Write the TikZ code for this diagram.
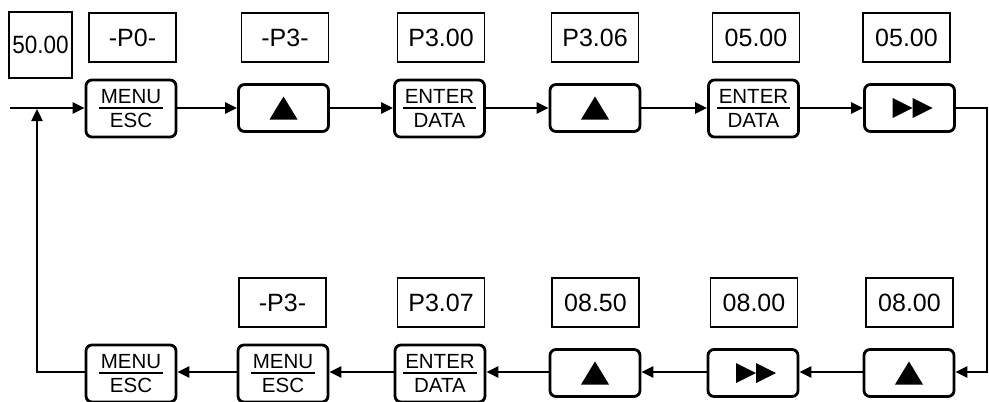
\documentclass[tikz,border=0pt]{standalone}
\usepackage{fontspec}
\setmainfont{Liberation Sans}
\usetikzlibrary{arrows.meta}

% two-line key caption with a bar between the words
\newcommand\keycap[2]{{\renewcommand\arraystretch{0}%
  \begin{tabular}{@{\hspace{2pt}}c@{\hspace{2pt}}}%
  \rule[-3.5pt]{0pt}{15pt}#1\\ \noalign{\hrule height 2.2pt}%
  \rule{0pt}{18.5pt}#2\end{tabular}}}

\begin{document}
\begin{tikzpicture}[x=1pt,y=-1pt,
  disp/.style={draw,line width=1.5pt,minimum width=87pt,minimum height=49pt,
    inner sep=0pt,font=\fontsize{25}{30}\selectfont},
  keybox/.style={draw,line width=2.8pt,rounded corners=6pt,minimum width=90pt,
    inner sep=0pt,font=\fontsize{20.5}{24}\selectfont},
  txtkey/.style={keybox,minimum height=57pt},
  symkey/.style={keybox,minimum height=47pt},
  conn/.style={line width=2.4pt,-{Triangle[length=12pt,width=11pt]}},
  up/.pic={\fill (-14,11.5) -- (14,11.5) -- (0,-11.5) -- cycle;},
  fwd/.pic={\fill (-17,-10) -- (3,0) -- (-17,10) -- cycle;
            \fill (3,-10) -- (23,0) -- (3,10) -- cycle;}]
\useasboundingbox (0,0) rectangle (989,402);

% initial display
\node[draw,line width=1.5pt,minimum width=63pt,minimum height=66pt,inner sep=0pt,
  font=\fontsize{25}{30}\selectfont] (d0) at (40.5,45) {\scalebox{0.9}[1]{50.00}};

% upper row: displays
\node[disp] (dt1) at (132.5,37.5) {-P0-};
\node[disp] (dt2) at (285,37.5) {-P3-};
\node[disp] (dt3) at (441,37.5) {P3.00};
\node[disp] (dt4) at (595,37.5) {P3.06};
\node[disp] (dt5) at (756,37.5) {05.00};
\node[disp] (dt6) at (906.5,37.5) {05.00};

% upper row: keys
\node[txtkey] (kt1) at (131,108.5) {\keycap{MENU}{ESC}};
\node[symkey] (kt2) at (283.5,108) {};
\node[txtkey] (kt3) at (439.5,108.5) {\keycap{ENTER}{DATA}};
\node[symkey] (kt4) at (595,108) {};
\node[txtkey] (kt5) at (753.5,108.5) {\keycap{ENTER}{DATA}};
\node[symkey] (kt6) at (909.5,108) {};
\pic at (kt2.center) {up};
\pic at (kt4.center) {up};
\pic at (kt6.center) {fwd};

% lower row: displays
\node[disp] (db2) at (282.5,302.5) {-P3-};
\node[disp] (db3) at (441,302.5) {P3.07};
\node[disp] (db4) at (595.5,302.5) {08.50};
\node[disp] (db5) at (754,302.5) {08.00};
\node[disp] (db6) at (909.5,302.5) {08.00};

% lower row: keys
\node[txtkey] (kb1) at (131,373.5) {\keycap{MENU}{ESC}};
\node[txtkey] (kb2) at (283,373.5) {\keycap{MENU}{ESC}};
\node[txtkey] (kb3) at (440,373.5) {\keycap{ENTER}{DATA}};
\node[symkey] (kb4) at (595,373) {};
\node[symkey] (kb5) at (753,373) {};
\node[symkey] (kb6) at (909,373) {};
\pic at (kb4.center) {up};
\pic at (kb5.center) {fwd};
\pic at (kb6.center) {up};

% corner points of the loop
\coordinate (in)  at (10,108);
\coordinate (rtop) at (987,108);
\coordinate (rbot) at (987,372);
\coordinate (lbot) at (37,372);
\coordinate (ltop) at (37,109);

% upper sequence
\draw[conn] (in) -- (kt1.west |- in);
\draw[conn] (kt1.east |- in) -- (kt2.west |- in);
\draw[conn] (kt2.east |- in) -- (kt3.west |- in);
\draw[conn] (kt3.east |- in) -- (kt4.west |- in);
\draw[conn] (kt4.east |- in) -- (kt5.west |- in);
\draw[conn] (kt5.east |- in) -- (kt6.west |- in);

% turn down on the right
\draw[conn] (kt6.east |- in) -- (rtop) -- (rbot) -- (kb6.east |- rbot);

% lower sequence, right to left
\draw[conn] (kb6.west |- rbot) -- (kb5.east |- rbot);
\draw[conn] (kb5.west |- rbot) -- (kb4.east |- rbot);
\draw[conn] (kb4.west |- rbot) -- (kb3.east |- rbot);
\draw[conn] (kb3.west |- rbot) -- (kb2.east |- rbot);
\draw[conn] (kb2.west |- rbot) -- (kb1.east |- rbot);

% return to the start
\draw[conn] (kb1.west |- rbot) -- (lbot) -- (ltop);
\end{tikzpicture}
\end{document}
